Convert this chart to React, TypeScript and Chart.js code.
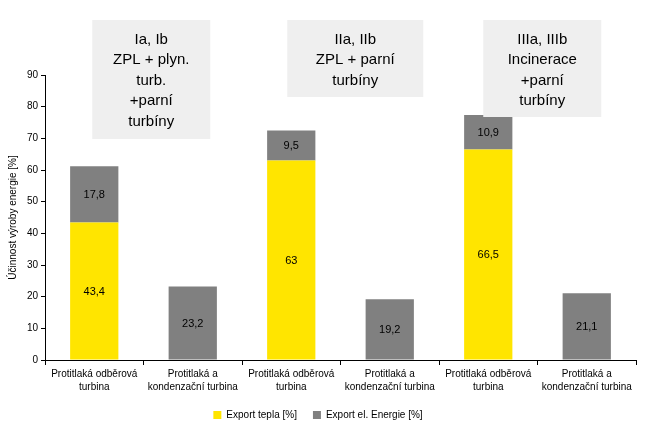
import React, { useEffect, useRef } from "react";
import { Chart, registerables } from "chart.js";

Chart.register(...registerables);

const categories: string[][] = [
  ["Protitlaká odběrová", "turbina"],
  ["Protitlaká a", "kondenzační turbina"],
  ["Protitlaká odběrová", "turbina"],
  ["Protitlaká a", "kondenzační turbina"],
  ["Protitlaká odběrová", "turbina"],
  ["Protitlaká a", "kondenzační turbina"],
];

const heatExport: (number | null)[] = [43.4, null, 63, null, 66.5, null];
const powerExport: (number | null)[] = [17.8, 23.2, 9.5, 19.2, 10.9, 21.1];

const seriesNames = ["Export tepla [%]", "Export el. Energie [%]"];
const yTitle = "Účinnost výroby energie [%]";
const yMin = 0;
const yMax = 90;
const yStep = 10;

const groupBoxTexts: string[][] = [
  ["Ia, Ib", "ZPL + plyn.", "turb.", "+parní", "turbíny"],
  ["IIa, IIb", "ZPL + parní", "turbíny"],
  ["IIIa, IIIb", "Incinerace", "+parní", "turbíny"],
];
const groupBoxAnchor: number[] = [0, 2, 4];

// layout / style (not data)
const FONT = "'Liberation Sans', Arial, sans-serif";
const YELLOW = "#FFE500";
const GRAY = "#808080";
const BOX_FILL = "#EFEFEF";
const boxGeom = [
  { dx: -2, w: 118, top: 20, bottom: 139 },
  { dx: -4, w: 136, top: 20, bottom: 97 },
  { dx: -5, w: 118, top: 20, bottom: 117 },
];

const fmt = (v: number) => String(v).replace(".", ",");

const valueLabels = {
  id: "valueLabels",
  afterDatasetsDraw(chart: any) {
    const ctx = chart.ctx;
    ctx.save();
    ctx.font = `11px ${FONT}`;
    ctx.fillStyle = "#000";
    ctx.textAlign = "center";
    ctx.textBaseline = "middle";
    chart.data.datasets.forEach((ds: any, di: number) => {
      const meta = chart.getDatasetMeta(di);
      meta.data.forEach((el: any, i: number) => {
        const v = ds.data[i];
        if (v === null || v === undefined) return;
        const { x, y, base } = el.getProps(["x", "y", "base"], true);
        ctx.fillText(fmt(v), x, (y + base) / 2 + 1);
      });
    });
    ctx.restore();
  },
};

const groupBoxes = {
  id: "groupBoxes",
  afterDraw(chart: any) {
    const ctx = chart.ctx;
    const xs = chart.scales.x;
    ctx.save();
    groupBoxTexts.forEach((lines, bi) => {
      const g = boxGeom[bi];
      const left = xs.getPixelForValue(groupBoxAnchor[bi]) + g.dx;
      ctx.fillStyle = BOX_FILL;
      ctx.fillRect(left, g.top, g.w, g.bottom - g.top);
      ctx.fillStyle = "#000";
      ctx.font = `15px ${FONT}`;
      ctx.textAlign = "center";
      ctx.textBaseline = "middle";
      lines.forEach((t, li) => {
        ctx.fillText(t, left + g.w / 2, g.top + 19.5 + li * 20.5);
      });
    });
    ctx.restore();
  },
};

export default function App() {
  const ref = useRef<HTMLCanvasElement | null>(null);
  useEffect(() => {
    if (!ref.current) return;
    const chart = new Chart(ref.current, {
      type: "bar",
      data: {
        labels: categories,
        datasets: [
          {
            label: seriesNames[0],
            data: heatExport,
            backgroundColor: YELLOW,
            borderWidth: 0,
          },
          {
            label: seriesNames[1],
            data: powerExport,
            backgroundColor: GRAY,
            borderWidth: 0,
          },
        ],
      },
      options: {
        animation: false,
        responsive: false,
        maintainAspectRatio: false,
        layout: { padding: { left: 0, right: 26, top: 75, bottom: 5 } },
        datasets: {
          bar: { categoryPercentage: 1, barPercentage: 0.49 },
        },
        plugins: {
          tooltip: { enabled: false },
          legend: {
            position: "bottom",
            labels: {
              boxWidth: 8,
              boxHeight: 8,
              padding: 16,
              color: "#000",
              font: { family: FONT, size: 10 },
            },
          },
        },
        scales: {
          x: {
            stacked: true,
            offset: true,
            afterFit(scale: any) {
              scale.height = 34;
            },
            grid: {
              offset: true,
              drawOnChartArea: false,
              drawTicks: true,
              tickLength: 5,
              tickColor: "#000",
            },
            border: { display: true, color: "#000", width: 1 },
            ticks: {
              color: "#000",
              padding: 3,
              maxRotation: 0,
              autoSkip: false,
              font: { family: FONT, size: 10, lineHeight: 1.3 },
            },
          },
          y: {
            stacked: true,
            min: yMin,
            max: yMax,
            afterFit(scale: any) {
              scale.width = 45;
            },
            grid: {
              drawOnChartArea: false,
              drawTicks: true,
              tickLength: 4,
              tickColor: "#000",
            },
            border: { display: true, color: "#000", width: 1 },
            ticks: {
              stepSize: yStep,
              color: "#000",
              padding: 3,
              font: { family: FONT, size: 10 },
            },
            title: {
              display: true,
              text: yTitle,
              color: "#000",
              padding: { top: 7, bottom: 0 },
              font: { family: FONT, size: 10 },
            },
          },
        },
      },
      plugins: [valueLabels, groupBoxes],
    });
    return () => chart.destroy();
  }, []);
  return (
    <div style={{ position: "absolute", left: 0, top: 0, width: 662, height: 435, background: "#fff" }}>
      <canvas ref={ref} width={662} height={435} style={{ display: "block" }} />
    </div>
  );
}
